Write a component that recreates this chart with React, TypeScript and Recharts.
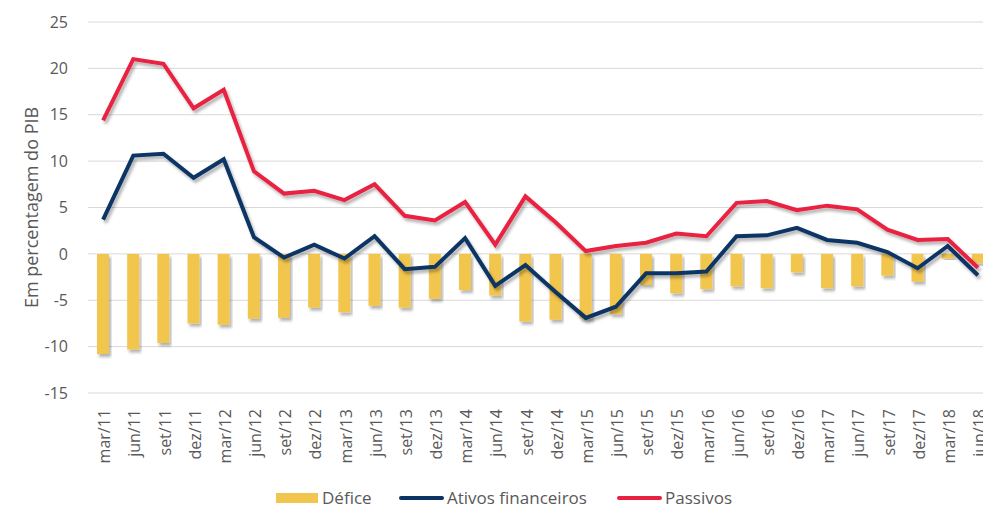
import { ComposedChart, Bar, Line, XAxis, YAxis, CartesianGrid, Legend } from "recharts";

const categories = [
  "mar/11", "jun/11", "set/11", "dez/11", "mar/12", "jun/12", "set/12", "dez/12",
  "mar/13", "jun/13", "set/13", "dez/13", "mar/14", "jun/14", "set/14", "dez/14",
  "mar/15", "jun/15", "set/15", "dez/15", "mar/16", "jun/16", "set/16", "dez/16",
  "mar/17", "jun/17", "set/17", "dez/17", "mar/18", "jun/18",
];
const defice = [
  -10.8, -10.3, -9.6, -7.5, -7.65, -7.0, -6.9, -5.8, -6.3, -5.6, -5.8, -4.85, -3.9, -4.5, -7.3,
  -7.1, -7.0, -6.5, -3.35, -4.25, -3.8, -3.5, -3.7, -2.0, -3.7, -3.5, -2.35, -3.0, -0.5, -1.0,
];
const ativos = [
  3.7, 10.6, 10.8, 8.2, 10.2, 1.8, -0.4, 1.0, -0.5, 1.9, -1.65, -1.4, 1.7, -3.45, -1.2,
  -4.1, -6.9, -5.7, -2.1, -2.1, -1.9, 1.9, 2.0, 2.8, 1.5, 1.2, 0.2, -1.55, 0.85, -2.3,
];
const passivos = [
  14.4, 21.0, 20.5, 15.7, 17.7, 8.9, 6.5, 6.8, 5.8, 7.5, 4.1, 3.6, 5.6, 1.0, 6.2,
  3.4, 0.3, 0.85, 1.2, 2.2, 1.9, 5.5, 5.7, 4.7, 5.2, 4.8, 2.6, 1.5, 1.6, -1.5,
];
const yTicks = [-15, -10, -5, 0, 5, 10, 15, 20, 25];

const data = categories.map((c, i) => ({
  cat: c, defice: defice[i], ativos: ativos[i], passivos: passivos[i],
}));

const FONT = "'Open Sans', sans-serif";
const GREY = "#595959";
const YELLOW = "#F2C54E";
const NAVY = "#0B3464";
const RED = "#E8213F";

const XTick = ({ x, y, payload }: any) => (
  <text
    x={x}
    y={y + 14}
    dy="0.45em"
    transform={`rotate(-90, ${x}, ${y + 14})`}
    textAnchor="end"
    fontSize={16}
    fontFamily={FONT}
    fill={GREY}
  >
    {payload.value}
  </text>
);

// fixed item widths so swatches land where the original puts them
const LegendBox = () => (
  <div style={{ display: "flex", alignItems: "center", fontFamily: FONT, fontSize: 17, color: GREY, whiteSpace: "nowrap" }}>
    <span style={{ display: "flex", alignItems: "center", width: 123 }}>
      <span style={{ display: "inline-block", width: 42, height: 10, background: YELLOW }} />
      <span style={{ marginLeft: 4 }}>Défice</span>
    </span>
    <span style={{ display: "flex", alignItems: "center", width: 218 }}>
      <span style={{ display: "inline-block", width: 45, height: 4, borderRadius: 2, background: NAVY }} />
      <span style={{ marginLeft: 3 }}>Ativos financeiros</span>
    </span>
    <span style={{ display: "flex", alignItems: "center" }}>
      <span style={{ display: "inline-block", width: 45, height: 4, borderRadius: 2, background: RED }} />
      <span style={{ marginLeft: 3 }}>Passivos</span>
    </span>
  </div>
);

export default function App() {
  return (
    <div style={{ position: "absolute", left: 0, top: 0, width: 983, height: 508, overflow: "hidden", background: "#fff" }}>
      <ComposedChart width={1000} height={508} data={data} margin={{ top: 22, right: 7, bottom: 0, left: 0 }}>
        <defs>
          <filter id="shadow" x="-10%" y="-10%" width="130%" height="130%">
            <feDropShadow dx="2" dy="3" stdDeviation="1.5" floodColor="#000" floodOpacity="0.3" />
          </filter>
        </defs>
        <CartesianGrid vertical={false} stroke="#D9D9D9" strokeWidth={1} />
        <XAxis
          dataKey="cat"
          interval={0}
          height={115}
          axisLine={false}
          tickLine={false}
          tickSize={0}
          tick={<XTick />}
        />
        <YAxis
          domain={[-15, 25]}
          ticks={yTicks}
          width={88}
          axisLine={false}
          tickLine={false}
          tickSize={0}
          tickMargin={20}
          tick={{ fontSize: 16, fontFamily: FONT, fill: GREY }}
          label={{
            value: "Em percentagem do PIB",
            angle: -90,
            position: "insideLeft",
            offset: 32,
            style: { textAnchor: "middle", fontSize: 18, fontFamily: FONT, fill: GREY },
          }}
        />
        <Legend
          layout="horizontal"
          verticalAlign="middle"
          align="center"
          content={<LegendBox />}
          wrapperStyle={{ left: 276, top: 486, width: "auto", height: 22 }}
        />
        <Bar dataKey="defice" name="Défice" fill={YELLOW} barSize={12} filter="url(#shadow)" isAnimationActive={false} />
        <Line
          type="linear"
          dataKey="ativos"
          name="Ativos financeiros"
          stroke={NAVY}
          strokeWidth={4}
          dot={false}
          filter="url(#shadow)"
          isAnimationActive={false}
        />
        <Line
          type="linear"
          dataKey="passivos"
          name="Passivos"
          stroke={RED}
          strokeWidth={4}
          dot={false}
          filter="url(#shadow)"
          isAnimationActive={false}
        />
      </ComposedChart>
    </div>
  );
}
